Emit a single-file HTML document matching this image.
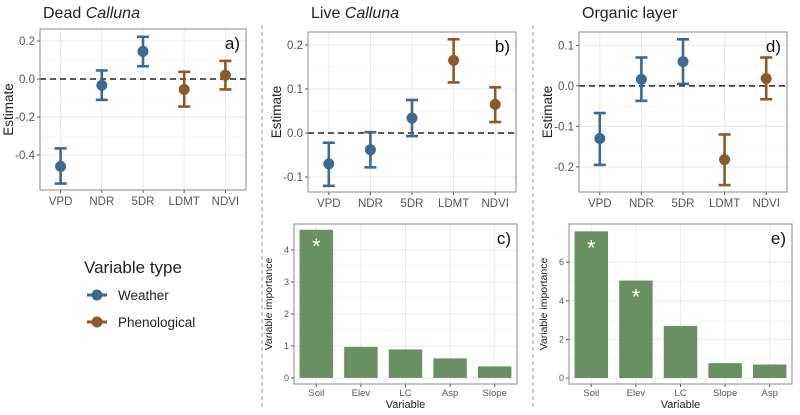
<!DOCTYPE html>
<html><head><meta charset="utf-8"><style>
body{margin:0;background:#fff;font-family:"Liberation Sans",sans-serif}
svg text{font-family:"Liberation Sans",sans-serif}
</style></head><body>
<svg id="s" width="800" height="410" xmlns="http://www.w3.org/2000/svg">
<line x1="262" y1="25" x2="262" y2="408" stroke="#999" stroke-dasharray="4,3"/>
<line x1="533" y1="25" x2="533" y2="408" stroke="#999" stroke-dasharray="4,3"/>
<text x="43" y="18" font-size="16" fill="#222">Dead <tspan font-style="italic">Calluna</tspan></text>
<text x="311" y="18" font-size="16" fill="#222">Live <tspan font-style="italic">Calluna</tspan></text>
<text x="582" y="18" font-size="16" fill="#222">Organic layer</text>
<g>
<text x="84" y="273" font-size="17" fill="#222">Variable type</text>
<g><line x1="87" y1="295" x2="107" y2="295" stroke="#3d6b8f" stroke-width="3"/><circle cx="97" cy="295" r="5.5" fill="#3d6b8f"/><text x="118" y="300" font-size="13.5" fill="#222">Weather</text></g>
<g><line x1="87" y1="322" x2="107" y2="322" stroke="#8a5a2b" stroke-width="3"/><circle cx="97" cy="322" r="5.5" fill="#8a5a2b"/><text x="118" y="327" font-size="13.5" fill="#222">Phenological</text></g>
</g>
</svg>
<script>
const estCats=["VPD","NDR","5DR","LDMT","NDVI"];
const estType=["w","w","w","p","p"];
const aEst=[-0.46,-0.033,0.145,-0.055,0.02];
const aLo=[-0.55,-0.11,0.067,-0.145,-0.055];
const aHi=[-0.365,0.045,0.222,0.038,0.095];
const aTicks=[-0.4,-0.2,0.0,0.2];
const bEst=[-0.07,-0.038,0.034,0.165,0.065];
const bLo=[-0.12,-0.078,-0.007,0.115,0.025];
const bHi=[-0.022,0.002,0.075,0.213,0.104];
const bTicks=[-0.1,0.0,0.1,0.2];
const dEst=[-0.13,0.016,0.06,-0.182,0.018];
const dLo=[-0.195,-0.037,0.005,-0.245,-0.033];
const dHi=[-0.067,0.07,0.115,-0.12,0.07];
const dTicks=[-0.2,-0.1,0.0,0.1];
const cCats=["Soil","Elev","LC","Asp","Slope"];
const cVals=[4.63,0.97,0.89,0.61,0.36];
const cStar=[true,false,false,false,false];
const cTicks=[0,1,2,3,4];
const eCats=["Soil","Elev","LC","Slope","Asp"];
const eVals=[7.6,5.05,2.7,0.77,0.7];
const eStar=[true,true,false,false,false];
const eTicks=[0,2,4,6];

const S=document.getElementById('s');const NS='http://www.w3.org/2000/svg';
function mk(t,a,p){const e=document.createElementNS(NS,t);for(const k in a)e.setAttribute(k,a[k]);(p||S).appendChild(e);return e;}
function frame(g,x0,x1,y0,y1,ymin,ymax,ticks,cats,label,ytitle,xtitle,small){
  const ys=v=>y1-(v-ymin)/(ymax-ymin)*(y1-y0);
  const n=cats.length,bw=(x1-x0)/n;const xs=i=>x0+bw*(i+0.5);
  for(let i=0;i<ticks.length-1;i++){const m=(ticks[i]+ticks[i+1])/2;mk('line',{x1:x0,x2:x1,y1:ys(m),y2:ys(m),stroke:'#f2f2f2','stroke-width':0.6},g);}
  ticks.forEach(t=>{const yy=ys(t);if(yy<y0||yy>y1)return;
    const l=mk('line',{x1:x0,x2:x1,y1:yy,y2:yy,stroke:'#e8e8e8','stroke-width':0.9},g);
    
    mk('line',{x1:x0-3,x2:x0,y1:yy,y2:yy,stroke:'#555'},g);
    const tx=mk('text',{x:x0-5,y:yy+(small?3:4),'font-size':small?9:11.5,fill:'#555','text-anchor':'end'},g);
    tx.textContent=small?String(t):(t===0?'0.0':t.toFixed(1));
    });
  cats.forEach((c,i)=>{mk('line',{x1:xs(i),x2:xs(i),y1:y0,y2:y1,stroke:'#e8e8e8','stroke-width':0.9},g);
    mk('line',{x1:xs(i),x2:xs(i),y1:y1,y2:y1+3,stroke:'#555'},g);
    const tx=mk('text',{x:xs(i),y:y1+(small?12:15),'font-size':small?9.5:11.5,fill:'#555','text-anchor':'middle'},g);
    tx.textContent=c;});
  const yt=mk('text',{transform:`translate(${x0-(small?22:27)},${(y0+y1)/2}) rotate(-90)`,'font-size':small?10.5:13.5,fill:'#222','text-anchor':'middle'},g);
  yt.textContent=ytitle;
  if(xtitle){const xt=mk('text',{x:(x0+x1)/2,y:y1+24,'font-size':11,fill:'#222','text-anchor':'middle'},g);xt.textContent=xtitle;
    }
  const lb=mk('text',{x:x1-6,y:y0+20,'font-size':17,fill:'#111','text-anchor':'end'},g);lb.textContent=label;
  
  return {ys,xs,bw};
}
function border(g,x0,x1,y0,y1){const r=mk('rect',{x:x0,y:y0,width:x1-x0,height:y1-y0,fill:'none',stroke:'#888','stroke-width':1},g);
  }
function estPanel(name,x0,x1,y0,y1,ymin,ymax,ticks,est,lo,hi,label){
  const g=mk('g',{});
  const f=frame(g,x0,x1,y0,y1,ymin,ymax,ticks,estCats,label,'Estimate',null,false);
  const z=mk('line',{x1:x0,x2:x1,y1:f.ys(0),y2:f.ys(0),stroke:'#222','stroke-width':1.5,'stroke-dasharray':'6,4'},g);
  
  est.forEach((v,i)=>{const col=estType[i]==='w'?'#3d6b8f':'#8a5a2b';const x=f.xs(i);
    const pg=mk('g',{},g);
    mk('line',{x1:x,x2:x,y1:f.ys(lo[i]),y2:f.ys(hi[i]),stroke:col,'stroke-width':2.6},pg);
    mk('line',{x1:x-6,x2:x+6,y1:f.ys(lo[i]),y2:f.ys(lo[i]),stroke:col,'stroke-width':2.6},pg);
    mk('line',{x1:x-6,x2:x+6,y1:f.ys(hi[i]),y2:f.ys(hi[i]),stroke:col,'stroke-width':2.6},pg);
    mk('circle',{cx:x,cy:f.ys(v),r:5.5,fill:col},pg);});
  border(g,x0,x1,y0,y1);
}
function barPanel(name,x0,x1,y0,y1,ymin,ymax,ticks,cats,vals,star,label){
  const g=mk('g',{});
  const f=frame(g,x0,x1,y0,y1,ymin,ymax,ticks,cats,label,'Variable importance','Variable',true);
  vals.forEach((v,i)=>{const w=f.bw*0.75;const r=mk('rect',{x:f.xs(i)-w/2,y:f.ys(v),width:w,height:f.ys(0)-f.ys(v),fill:'#6a8f62'},g);
    
    if(star[i]){const t=mk('text',{x:f.xs(i),y:f.ys(v)+24,'font-size':22,fill:'#fff','text-anchor':'middle'},g);t.textContent='*';
      }});
  border(g,x0,x1,y0,y1);
}
estPanel('panel-a',40,246,29,190,-0.584,0.263,aTicks,aEst,aLo,aHi,'a)');
estPanel('panel-b',308,516,32,192,-0.134,0.2295,bTicks,bEst,bLo,bHi,'b)');
estPanel('panel-d',579,787,32,192,-0.262,0.133,dTicks,dEst,dLo,dHi,'d)');
barPanel('panel-c',294,517,224,384,-0.19,4.81,cTicks,cCats,cVals,cStar,'c)');
barPanel('panel-e',569,792,224,384,-0.31,7.98,eTicks,eCats,eVals,eStar,'e)');
</script>
</body></html>
